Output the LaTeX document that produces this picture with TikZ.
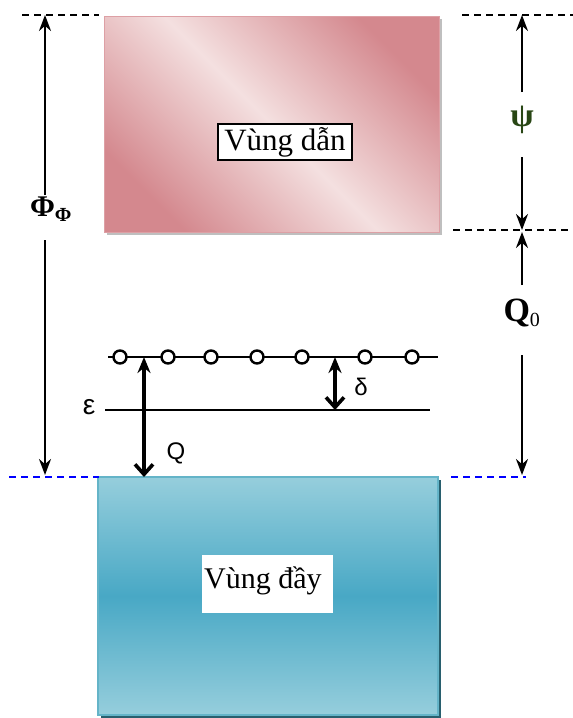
\documentclass[tikz,border=0pt]{standalone}
\usepackage{fontspec}
\setmainfont{Liberation Serif}
\newfontfamily\sansf{Liberation Sans}
\usetikzlibrary{arrows.meta}
\definecolor{pinkdark}{RGB}{212,136,142}
\definecolor{pinklight}{RGB}{244,224,224}
\definecolor{cyanlight}{RGB}{150,206,220}
\definecolor{cyandark}{RGB}{72,168,197}
\definecolor{cyanedge}{RGB}{100,180,200}
\definecolor{cyanshadow}{RGB}{40,95,110}
\definecolor{psicol}{RGB}{40,70,20}
\tikzset{
  dimarrow/.style={line width=2.2pt,-{Stealth[length=16pt,width=12pt]}},
  dashblack/.style={dashed,dash pattern=on 7pt off 5pt,line width=1.8pt},
  dashblue/.style={dashed,dash pattern=on 7pt off 5pt,line width=1.8pt,blue},
  labelbox/.style={draw=black,line width=1.8pt,fill=white,inner xsep=6pt,inner ysep=3pt,font=\fontsize{31}{34}\selectfont},
  dimlabel/.style={font=\fontsize{30}{34}\selectfont\bfseries},
  thinlabel/.style={font=\sansf\fontsize{24}{28}\selectfont},
  gaparrow/.style={line width=3.6pt,{Stealth[length=16pt,width=13pt]}-{Straight Barb[length=10pt,width=18pt]}},
  dot/.style={circle,draw=black,fill=white,line width=2.4pt,minimum size=13pt,inner sep=0pt}
}
\begin{document}
\begin{tikzpicture}[x=1pt,y=-1pt]
\useasboundingbox (0,0) rectangle (573,718);
% conduction band
\fill[black!25] (107,19) rectangle (442,235);
\shade[left color=pinkdark,right color=pinkdark,middle color=pinklight,shading angle=-45,draw=pinkdark!80!white] (104,16) rectangle (439,232);
\node[labelbox] (cb) at (285,142) {Vùng dẫn};
% valence band
\fill[cyanshadow] (101,480) rectangle (441,718);
\shade[top color=cyanlight,bottom color=cyanlight,middle color=cyandark,draw=cyanedge,line width=1.2pt] (98,477) rectangle (438,715);
\node[fill=white,inner sep=0pt,minimum width=131pt,minimum height=58pt,anchor=north west] (vbbox) at (202,555) {};
\node[anchor=base west,inner sep=0pt,font=\fontsize{30}{34}\selectfont] (vb) at (vbbox.west |- 0,588) {\hspace{2pt}Vùng đầy};
% dashed reference lines
\draw[dashblack] (22,15) -- (99,15);
\draw[dashblack] (462,15) -- (573,15);
\draw[dashblack] (453,230) -- (573,230);
\draw[dashblue] (9,477) -- (99,477);
\draw[dashblue] (451,477) -- (526,477);
% left dimension Phi
\coordinate (phitop) at (45,15);
\coordinate (phibot) at (45,475);
\coordinate (phiA) at (45,195);
\coordinate (phiB) at (45,240);
\node[dimlabel] (phi) at (51,209) {Φ\textsubscript{\fontsize{20}{22}\selectfont Φ}};
\draw[dimarrow] (phiA) -- (phitop);
\draw[dimarrow] (phiB) -- (phibot);
% right dimension psi
\coordinate (psitop) at (522,15);
\coordinate (psibot) at (522,230);
\coordinate (psiA) at (522,92);
\coordinate (psiB) at (522,157);
\node[font=\fontsize{34}{36}\selectfont\bfseries,text=psicol] (psi) at (522,120) {ψ};
\draw[dimarrow] (psiA) -- (psitop);
\draw[dimarrow] (psiB) -- (psibot);
% right dimension Q0
\coordinate (q0top) at (522,232);
\coordinate (q0bot) at (522,475);
\coordinate (q0A) at (522,285);
\coordinate (q0B) at (522,355);
\node[font=\fontsize{34}{36}\selectfont\bfseries] (q0) at (522,313) {Q\textsubscript{\mdseries\fontsize{20}{22}\selectfont 0}};
\draw[dimarrow] (q0A) -- (q0top);
\draw[dimarrow] (q0B) -- (q0bot);
% trap level with circles
\coordinate (lvlL) at (108,357);
\coordinate (lvlR) at (438,357);
\draw[line width=2.2pt] (lvlL) -- (lvlR);
\foreach \x/\n in {120/c1,168/c2,211/c3,257/c4,302/c5,365/c6,412/c7}{
  \node[dot] (\n) at (\x,357) {};
}
% Fermi level
\coordinate (epsL) at (105,410);
\coordinate (epsR) at (430,410);
\draw[line width=2.2pt] (epsL) -- (epsR);
\node[thinlabel,font=\sansf\fontsize{28}{30}\selectfont] (eps) at (89,407) {ε};
% Q arrow
\coordinate (qtop) at (144,357);
\coordinate (qbot) at (144,477);
\draw[gaparrow] (qtop) -- (qbot);
\node[thinlabel] (q) at (176,453) {Q};
% delta arrow
\coordinate (dtop) at (335,357);
\coordinate (dbot) at (335,410);
\draw[gaparrow] (dtop) -- (dbot);
\node[thinlabel] (d) at (361,387) {δ};
\end{tikzpicture}
\end{document}
